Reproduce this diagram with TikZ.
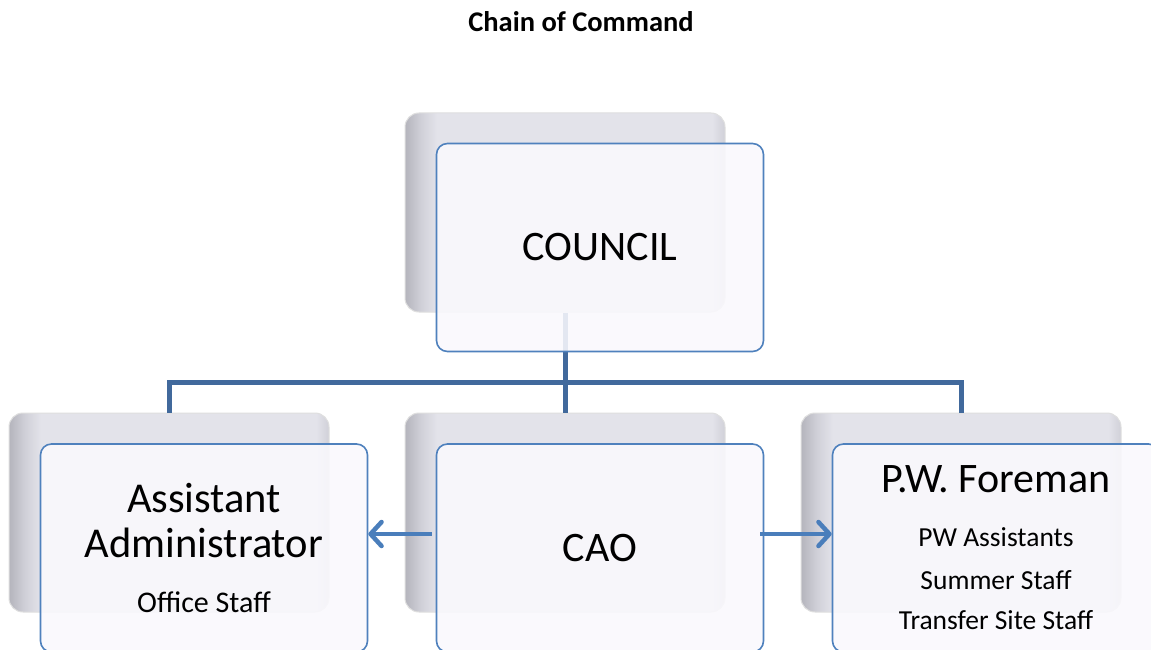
\documentclass[tikz,border=0pt]{standalone}
\usepackage{fontspec}
\setmainfont{Carlito}
\usepackage{xcolor}
\usetikzlibrary{arrows.meta,positioning,calc}

\definecolor{linkblue}{HTML}{41699C}
\definecolor{arrowblue}{HTML}{4A7EBB}
\definecolor{boxedge}{HTML}{4F81BD}
\definecolor{boxfill}{HTML}{FAF9FD}
\definecolor{bevelA}{HTML}{B4B4BC}
\definecolor{bevelB}{HTML}{D0D0D8}
\definecolor{bevelC}{HTML}{E3E3EA}
\pgfdeclarehorizontalshading{bevel}{100bp}{color(0bp)=(bevelA); color(25bp)=(bevelA); color(27.5bp)=(bevelB); color(30bp)=(bevelC); color(73bp)=(bevelC); color(75bp)=(bevelB); color(100bp)=(bevelB)}

\begin{document}
\begin{tikzpicture}[
    x=1pt, y=-1pt,
    backbox/.style={rectangle, draw=gray!25, line width=1pt, shading=bevel, minimum width=320pt, minimum height=199pt, rounded corners=14pt, inner sep=0pt},
    frontbox/.style={rectangle, draw=boxedge, line width=1.6pt, fill=boxfill, fill opacity=0.88, text opacity=1, minimum width=327pt, minimum height=208pt, rounded corners=11pt, align=center, inner sep=0pt},
    link/.style={draw=linkblue, line width=5pt},
    arrow/.style={-{Straight Barb[length=11pt, width=24pt, round]}, draw=arrowblue, line width=4.5pt},
  ]
  \useasboundingbox[fill=white] (0,0) rectangle (1151,650);

  % Title
  \node[anchor=base, font=\fontsize{28.5}{32}\selectfont\bfseries] (title) at (581,32) {Chain of Command};

  % Back boxes
  \node[backbox] (councilback) at (565,212.5) {};
  \node[backbox] (adminback) at (169,512.5) {};
  \node[backbox] (caoback) at (565,512.5) {};
  \node[backbox] (foremanback) at (961,512.5) {};

  % Tree lines
  \coordinate (bus) at (565,382);
  \draw[link] (councilback.south) -- (bus);
  \draw[link] (adminback.north) |- (bus) -| (foremanback.north);
  \draw[link] (caoback.north) -- (bus);

  % Front boxes
  \node[frontbox, font=\fontsize{42}{48}\selectfont] (council) at (600,247.5) {COUNCIL};
  \node[frontbox, font=\fontsize{42.5}{45}\selectfont] (admin) at (204,548)
    {Assistant\\Administrator\\[10pt]{\fontsize{30}{30}\selectfont Office Staff}};
  \node[frontbox, font=\fontsize{42}{45}\selectfont] (cao) at (600,548) {CAO};
  \node[frontbox, font=\fontsize{27.5}{41.5}\selectfont] (foreman) at (996,548)
    {{\fontsize{42}{44}\selectfont P.W. Foreman}\\[12.5pt]PW Assistants\\[1.5pt]Summer Staff\\[-1.5pt]Transfer Site Staff};

  % Side arrows
  \draw[arrow] ([xshift=-4pt, yshift=14pt]cao.west) -- ([yshift=14pt]admin.east);
  \draw[arrow] ([xshift=-4pt, yshift=14pt]cao.east) -- ([yshift=14pt]foreman.west);
\end{tikzpicture}
\end{document}
